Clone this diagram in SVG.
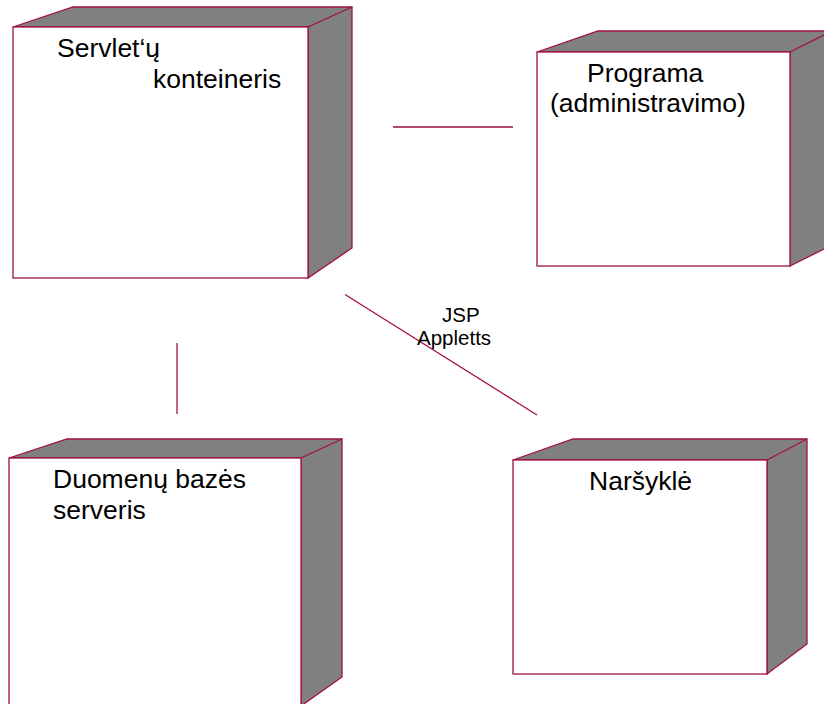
<svg xmlns="http://www.w3.org/2000/svg" width="824" height="704" viewBox="0 0 824 704">
  <style>
    .side { fill: #808080; stroke: #a0103f; stroke-width: 1.3; stroke-linejoin: miter; }
    .front { fill: #ffffff; stroke: #a0103f; stroke-width: 1.3; }
    .edge { stroke: #a0103f; stroke-width: 1.3; fill: none; }
    .label { font-family: "Liberation Sans", Arial, sans-serif; font-size: 26.5px; fill: #000000; }
    .conn-label { font-family: "Liberation Sans", Arial, sans-serif; font-size: 20.5px; fill: #000000; }
  </style>

  <!-- connectors between the nodes -->
  <g id="connectors">
    <line class="edge" x1="393" y1="127" x2="513" y2="127"/>
    <line class="edge" x1="177" y1="343" x2="177" y2="414"/>
    <line class="edge" x1="345" y1="294.5" x2="537" y2="415"/>
    <text class="conn-label" x="442" y="322">JSP</text>
    <text class="conn-label" x="417" y="345">Appletts</text>
  </g>

  <!-- Servlet container node -->
  <g id="node-servlet">
    <polygon class="side" points="13,27 73,7 352,7 352,248 308,278 308,27"/>
    <line class="edge" x1="308" y1="27" x2="352" y2="7"/>
    <rect class="front" x="13" y="27" width="295" height="251"/>
    <text class="label" x="57" y="57">Servlet‘ų</text>
    <text class="label" x="153" y="88">konteineris</text>
  </g>

  <!-- Administration program node -->
  <g id="node-programa">
    <polygon class="side" points="537,52 598,31 832,31 832,245 790,266 790,52"/>
    <line class="edge" x1="790" y1="52" x2="832" y2="31"/>
    <rect class="front" x="537" y="52" width="253" height="214"/>
    <text class="label" x="587" y="82">Programa</text>
    <text class="label" x="550" y="112">(administravimo)</text>
  </g>

  <!-- Database server node -->
  <g id="node-duomenu">
    <polygon class="side" points="9,458 67,439 342,439 342,677 301,706 301,458"/>
    <line class="edge" x1="301" y1="458" x2="342" y2="439"/>
    <rect class="front" x="9" y="458" width="292" height="260"/>
    <text class="label" x="53" y="488">Duomenų bazės</text>
    <text class="label" x="53" y="519">serveris</text>
  </g>

  <!-- Browser node -->
  <g id="node-narsykle">
    <polygon class="side" points="513,460 573,439 807,439 807,644 767,674 767,460"/>
    <line class="edge" x1="767" y1="460" x2="807" y2="439"/>
    <rect class="front" x="513" y="460" width="254" height="214"/>
    <text class="label" x="589" y="490">Naršyklė</text>
  </g>
</svg>
